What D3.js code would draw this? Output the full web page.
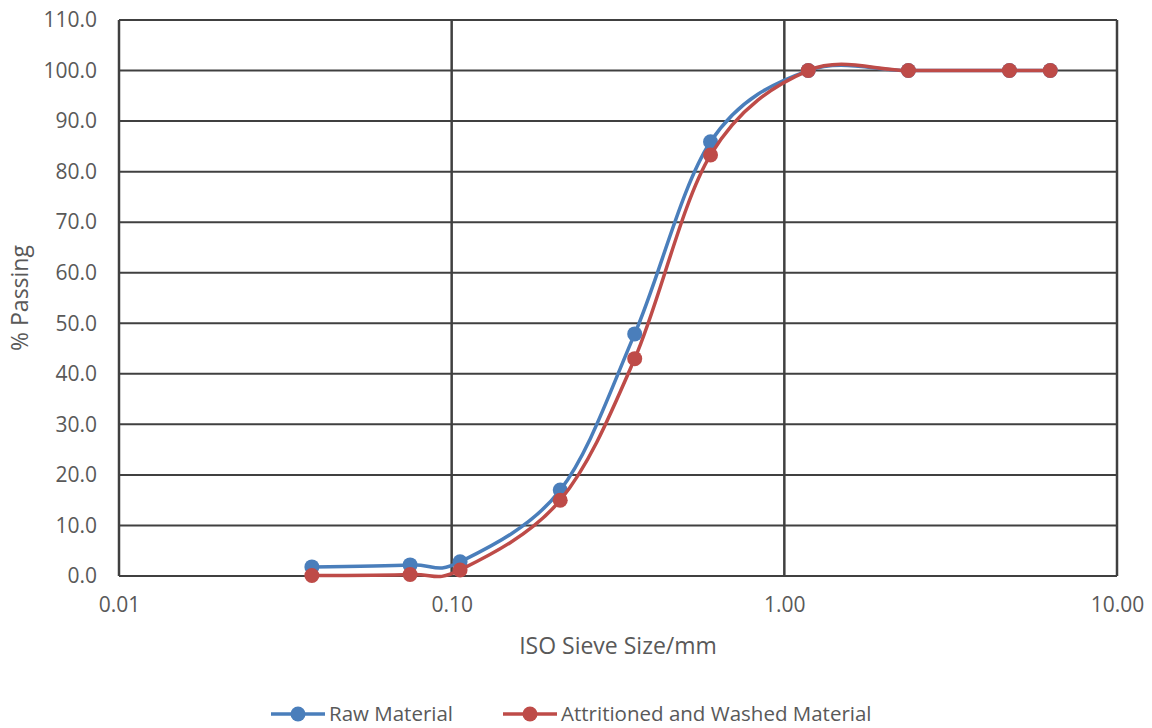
<!DOCTYPE html>
<html><head><meta charset="utf-8">
<script src="https://cdn.jsdelivr.net/npm/d3@7"></script>
<style>body{margin:0;background:#fff}svg{display:block}text{font-family:"Open Sans",sans-serif;fill:#595959}</style>
</head><body><svg id="c" width="1152" height="728"></svg>
<script>
const sieveSizes = [0.038, 0.075, 0.106, 0.212, 0.355, 0.6, 1.18, 2.36, 4.75, 6.3];
const rawMaterial = [1.8, 2.2, 2.8, 17.0, 47.9, 85.9, 100, 100, 100, 100];
const attritionedMaterial = [0.1, 0.3, 1.2, 15.0, 43.0, 83.3, 100, 100, 100, 100];
const xTicks = [0.01, 0.1, 1, 10];
const yTicks = [0,10,20,30,40,50,60,70,80,90,100,110];
const seriesNames = ["Raw Material", "Attritioned and Washed Material"];
const colors = ["#4a7ebb", "#be4b48"];

const svg = d3.select("#c");
const L = 119, R = 1117, T = 20, B = 576;
const x = d3.scaleLog().domain([0.01, 10]).range([L, R]);
const y = d3.scaleLinear().domain([0, 110]).range([B, T]);
const grid = "#404040";

const g = svg.append("g");
g.selectAll("line.h").data(yTicks).join("line")
  .attr("x1", L).attr("x2", R).attr("y1", d => y(d)).attr("y2", d => y(d))
  .attr("stroke", grid).attr("stroke-width", 2);
g.selectAll("line.v").data(xTicks).join("line")
  .attr("y1", T).attr("y2", B).attr("x1", d => x(d)).attr("x2", d => x(d))
  .attr("stroke", grid).attr("stroke-width", 2.5);

const yAxis = d3.axisLeft(y).tickValues(yTicks).tickFormat(d3.format(".1f")).tickSize(0).tickPadding(22);
const ya = svg.append("g").attr("transform", `translate(${L},0)`).call(yAxis);
ya.select(".domain").remove();
ya.selectAll("text").style("font-size", "21px").attr("fill", "#595959");

const xAxis = d3.axisBottom(x).tickValues(xTicks).tickFormat(d3.format(".2f")).tickSize(0).tickPadding(21);
const xa = svg.append("g").attr("transform", `translate(0,${B})`).call(xAxis);
xa.select(".domain").remove();
xa.selectAll("text").style("font-size", "21px").attr("fill", "#595959");

svg.append("text").attr("x", 618).attr("y", 654).attr("text-anchor", "middle")
  .style("font-size", "23px").text("ISO Sieve Size/mm");
svg.append("text").attr("transform", `translate(28,${(T + B) / 2 + 0}) rotate(-90)`).attr("text-anchor", "middle")
  .style("font-size", "23px").text("% Passing");

const line = d3.line().x(d => x(d[0])).y(d => y(d[1])).curve(d3.curveCatmullRom.alpha(0));
[rawMaterial, attritionedMaterial].forEach((vals, i) => {
  const pts = sieveSizes.map((s, j) => [s, vals[j]]);
  svg.append("path").attr("d", line(pts)).attr("fill", "none")
    .attr("stroke", colors[i]).attr("stroke-width", 3.5).attr("stroke-linecap", "round");
  svg.append("g").selectAll("circle").data(pts).join("circle")
    .attr("cx", d => x(d[0])).attr("cy", d => y(d[1])).attr("r", 7.5).attr("fill", colors[i]);
});

const legX = [271, 503];
seriesNames.forEach((n, i) => {
  const lg = svg.append("g").attr("transform", `translate(${legX[i]},714)`);
  lg.append("line").attr("x1", 0).attr("x2", 54).attr("stroke", colors[i]).attr("stroke-width", 3.5);
  lg.append("circle").attr("cx", 27).attr("r", 7.5).attr("fill", colors[i]);
  lg.append("text").attr("x", 58).attr("y", 7).style("font-size", "20.5px").text(n);
});
</script></body></html>
